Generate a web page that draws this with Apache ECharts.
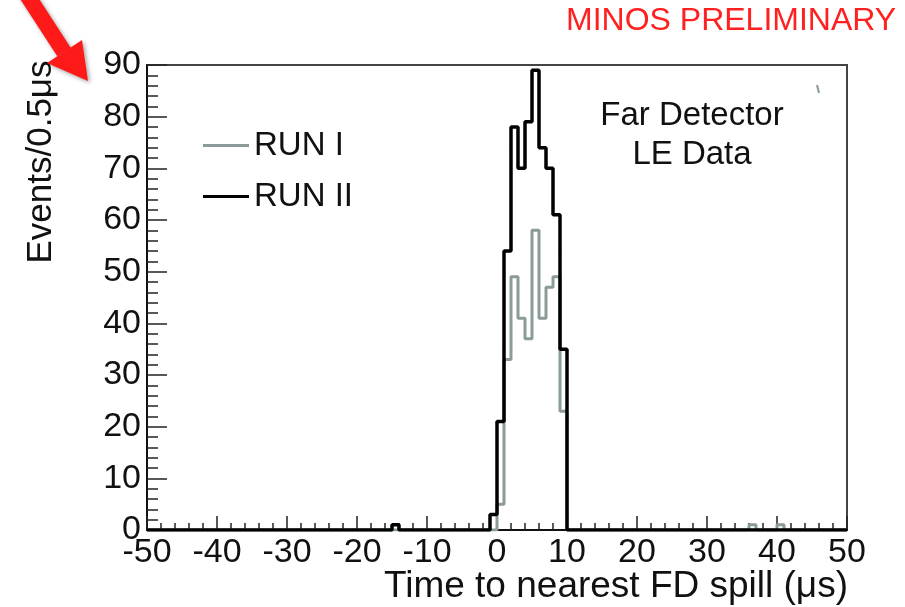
<!DOCTYPE html>
<html>
<head>
<meta charset="utf-8">
<script src="https://cdn.jsdelivr.net/npm/echarts@6/dist/echarts.min.js"></script>
<style>
  html, body { margin: 0; padding: 0; background: #fff; }
  #chart { width: 905px; height: 607px; }
</style>
</head>
<body>
<div id="chart"></div>
<script>
// histogram bins are 1 us wide, only non-empty bins listed
var runIIBinStart = [-15, -1, 0, 1, 2, 3, 4, 5, 6, 7, 8, 9];
var runIICounts   = [1, 3, 21, 54, 78, 70, 79, 89, 74, 70, 61, 35];
var runIBinStart  = [0, 1, 2, 3, 4, 5, 6, 7, 8, 9, 36, 40];
var runICounts    = [5, 33, 49, 41, 37, 58, 41, 47, 49, 23, 1, 1];

var xMin = -50, xMax = 50, binWidth = 1;
var legendNames = ['RUN I', 'RUN II'];
var xTitle = 'Time to nearest FD spill (\u03bcs)';
var yTitle = 'Events/0.5\u03bcs';

var FONT = '"Liberation Sans", Arial, Helvetica, sans-serif';

// fill the full range of bins, then walk it as a step outline
function stepPoints(starts, counts) {
    var nBins = (xMax - xMin) / binWidth;
    var full = [];
    for (var b = 0; b < nBins; b++) full.push(0);
    for (var i = 0; i < starts.length; i++) {
        full[Math.round((starts[i] - xMin) / binWidth)] = counts[i];
    }
    var pts = [];
    for (var k = 0; k < nBins; k++) {
        var lo = xMin + k * binWidth;
        pts.push([lo, full[k]]);
        pts.push([lo + binWidth, full[k]]);
    }
    return pts;
}

var chart = echarts.init(document.getElementById('chart'));

var option = {
    animation: false,
    backgroundColor: '#fff',
    grid: {
        left: 147, right: 58, top: 65, bottom: 77,
        containLabel: false,
        outerBoundsMode: 'none',
        show: true,
        borderColor: '#444',
        borderWidth: 2
    },
    legend: {
        orient: 'vertical',
        left: 198, top: 124,
        itemWidth: 46, itemHeight: 3,
        itemGap: 18,
        icon: 'rect',
        textStyle: { fontFamily: FONT, fontSize: 33, color: '#111' },
        data: legendNames
    },
    xAxis: {
        type: 'value',
        min: xMin, max: xMax, interval: 10,
        axisLine: { onZero: false, lineStyle: { color: '#111', width: 2 } },
        axisTick: { inside: true, length: 14, lineStyle: { color: '#222', width: 1.5 } },
        minorTick: { show: true, splitNumber: 5, length: 7, lineStyle: { color: '#222', width: 1.5 } },
        axisLabel: { fontFamily: FONT, fontSize: 34, color: '#111', margin: 6 },
        splitLine: { show: false }
    },
    yAxis: {
        type: 'value',
        min: 0, max: 90, interval: 10,
        axisLine: { show: true, onZero: false, lineStyle: { color: '#111', width: 2 } },
        axisTick: { show: true, inside: true, length: 20, lineStyle: { color: '#222', width: 1.5 } },
        minorTick: { show: true, splitNumber: 5, length: 11, lineStyle: { color: '#222', width: 1.5 } },
        axisLabel: { fontFamily: FONT, fontSize: 34, color: '#111', margin: 6 },
        splitLine: { show: false }
    },
    series: [
        {
            name: legendNames[0],
            type: 'line',
            data: stepPoints(runIBinStart, runICounts),
            symbol: 'none',
            lineStyle: { color: '#8a9b99', width: 3 },
            itemStyle: { color: '#8a9b99' },
            z: 2
        },
        {
            name: legendNames[1],
            type: 'line',
            data: stepPoints(runIIBinStart, runIICounts),
            symbol: 'none',
            lineStyle: { color: '#000', width: 3.5 },
            itemStyle: { color: '#000' },
            z: 3
        }
    ],
    graphic: [
        {
            type: 'text',
            x: 848, y: 568,
            style: { text: xTitle, fill: '#111', font: '37px ' + FONT,
                     textAlign: 'right', textVerticalAlign: 'top' }
        },
        {
            type: 'text',
            x: 41, y: 162,
            rotation: Math.PI / 2,
            style: { text: yTitle, fill: '#111', font: '35px ' + FONT,
                     textAlign: 'center', textVerticalAlign: 'middle' }
        },
        {
            type: 'text',
            left: 566, top: 5,
            style: { text: 'MINOS PRELIMINARY', fill: '#ff2020', font: '32px ' + FONT }
        },
        {
            type: 'text',
            x: 692, y: 96,
            style: { text: 'Far Detector\nLE Data', fill: '#111', font: '33px ' + FONT,
                     textAlign: 'center', lineHeight: 39 }
        },
        {
            // stray mark in the corner of the frame
            type: 'line',
            shape: { x1: 817, y1: 85, x2: 819, y2: 93 },
            style: { stroke: '#8a9b99', lineWidth: 2 }
        },
        {
            // red pointer arrow, top-left
            type: 'group',
            children: [
                {
                    type: 'line',
                    shape: { x1: 16, y1: -22, x2: 64, y2: 52 },
                    style: { stroke: '#ff1a1a', lineWidth: 16,
                             shadowBlur: 4, shadowColor: 'rgba(0,0,0,0.35)', shadowOffsetX: 2, shadowOffsetY: 2 }
                },
                {
                    type: 'polygon',
                    shape: { points: [[47, 63], [82, 40], [88, 81]] },
                    style: { fill: '#ff1a1a',
                             shadowBlur: 4, shadowColor: 'rgba(0,0,0,0.35)', shadowOffsetX: 2, shadowOffsetY: 2 }
                }
            ]
        }
    ]
};

chart.setOption(option);
</script>
</body>
</html>
